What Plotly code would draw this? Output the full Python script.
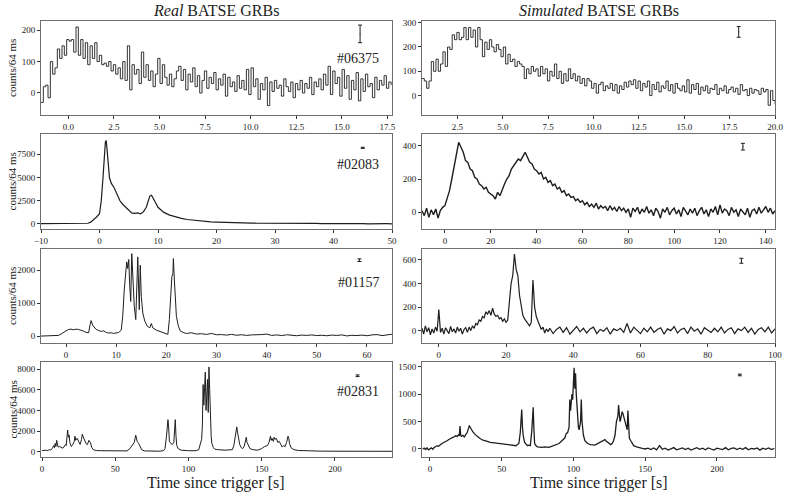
import numpy as np
import plotly.graph_objects as go

# ---------------- data ----------------
# Panel 1: real #06375, 0.128 s grid starting at -1.5 s
p1_t0, p1_dt = -1.5, 0.128
p1_counts = [-30, 20, 25, -15, 100, 60, 80, 140, 110, 150,
             120, 170, 165, 170, 130, 210, 120, 170, 110, 160,
             90, 150, 110, 160, 100, 120, 90, 95, 85, 100,
             70, 90, 60, 80, 45, 100, 40, 150, 10, 90,
             60, 75, 30, 130, 50, 90, 40, 70, 20, 60,
             110, 30, 90, 50, 25, 60, 20, 45, 70, 85,
             40, 75, 10, 60, 35, 80, 20, 55, 0, 40,
             70, 15, 50, 30, 65, 10, 45, 25, 60, -10,
             50, 20, 35, 5, 55, 15, 40, 10, 75, -5,
             80, 20, 45, -20, 30, 10, 50, -40, 35, 5,
             40, 15, 25, -10, 45, 20, 5, 35, -15, 30,
             10, 40, 0, 30, 15, 50, -5, 35, 20, 45,
             10, 60, 25, 85, -5, 70, 30, 50, -10, 75,
             15, 55, -20, 40, 10, 65, -25, 45, 5, 60,
             20, 30, -15, 50, 10, 40, 25, 55, 15, 35, 25]

# Panel 2: simulated, 0.128 s grid starting at 0.55 s
p2_t0, p2_dt = 0.55, 0.128
p2_counts = [70, 60, 30, 60, 140, 100, 150, 100, 130, 180,
             120, 200, 190, 250, 230, 260, 230, 240, 280, 230,
             280, 240, 270, 200, 280, 230, 160, 220, 190, 230,
             200, 180, 210, 190, 160, 200, 130, 170, 140, 150,
             120, 140, 130, 120, 70, 110, 90, 120, 100, 110,
             80, 120, 90, 110, 60, 100, 80, 130, 70, 100,
             50, 90, 60, 110, 70, 90, 60, 80, 50, 70,
             40, 70, 60, 30, 50, 10, 45, 55, 20, 40,
             30, 50, 20, 45, 10, 40, 25, 55, 35, 60,
             45, 65, 30, 60, 20, 50, 35, 60, 0, 45,
             25, 55, 15, 40, 30, 60, 20, 45, 10, 50,
             30, 20, 40, 15, 65, 10, 45, 25, 50, 5,
             35, 20, 40, 10, 30, 25, 45, 5, 30, 20,
             40, 10, 25, 35, 15, 30, 5, 45, 20, 25,
             0, 30, 10, 25, 20, 5, 30, 15, 25, -40, 20, -20, -35]

# Panel 3: real #02083
p3_time = [-10, -5, -2.5, -2, -1.5, -1, -0.5, 0, 0.3, 0.6, 0.8, 1.0, 1.15, 1.3, 1.5, 1.7,
           2.0, 2.5, 3, 3.5, 4, 4.5, 5, 5.5, 6, 6.5, 7, 7.5, 8, 8.3, 8.6, 8.9, 9.2, 9.5,
           10, 10.5, 11, 12, 13, 14, 15, 16, 17, 18, 19, 20,
           21, 22, 23, 24, 25, 26, 27, 28, 29, 30, 31, 32, 33, 34, 35, 36, 37, 38, 39, 40,
           41, 42, 43, 44, 45, 46, 47, 48, 49, 50]
p3_counts = [30, 30, 40, 80, 200, 450, 750, 1100, 2500, 5000, 7500, 8800, 9000, 8200, 6500, 5000,
             4400, 3900, 3200, 2500, 2100, 1800, 1500, 1200, 1150, 1200, 1100, 1300, 1800, 2500, 3000, 3100, 2800, 2400,
             1800, 1500, 1250, 950, 750, 600, 480, 400, 320, 260, 220, 190,
             160, 140, 130, 110, 100, 90, 80, 85, 70, 65, 70, 55, 60, 45, 50, 40, 55, 35, 45, 30,
             40, 25, 45, 30, 35, 20, 40, 25, 30, 20]

# Panel 4: simulated, 1 s grid starting at -10 s
p4_t0, p4_dt = -10, 1.0
p4_counts = [10, -20, 25, -30, 15, -15, 20, -35, 10, 30,
             40, 80, 130, 200, 270, 350, 420, 390, 360, 310,
             300, 260, 250, 210, 200, 170, 160, 140, 150, 120,
             110, 100, 80, 120, 100, 140, 170, 200, 220, 260,
             280, 300, 320, 310, 340, 360, 330, 300, 290, 260,
             250, 230, 240, 200, 210, 180, 190, 160, 170, 140,
             150, 120, 130, 100, 110, 90, 95, 70, 80, 60,
             70, 45, 60, 35, 50, 30, 55, 20, 40, 25,
             35, 10, 40, 15, 30, 5, 35, 10, 25, 0,
             20, -30, 25, 5, 30, -10, 20, 0, 35, -5,
             15, -20, 25, 5, -35, 20, 0, 30, -15, 10,
             25, -10, 15, -25, 30, 5, -15, 20, -5, 25,
             -20, 10, 30, -10, 15, -25, 20, 0, 35, -15,
             45, -5, 20, 10, -20, 30, 0, 15, -25, 20,
             5, -15, 25, -30, 10, 20, -10, 30, -5, 15,
             35, 0, 25, -10, 10]

# Panel 5: real #01157
p5_time = [-5, -2, -1.5, -1, -0.5, 0, 0.5, 1, 1.5, 2, 2.5, 3, 3.5, 4, 4.5, 4.8, 5, 5.3, 5.7, 6,
           6.5, 7, 7.5, 8, 8.5, 9, 9.5, 10, 10.5, 11, 11.3, 11.6, 11.9, 12.1, 12.3, 12.5, 12.7, 12.9,
           13.1, 13.3, 13.6, 13.9, 14.1, 14.3, 14.5, 14.6, 14.8, 15.0, 15.3, 15.7, 16.2, 16.7, 17, 17.3,
           18, 18.5, 19, 19.5, 20, 20.3, 20.6, 20.9, 21.1, 21.3, 21.4, 21.6, 21.8, 22, 22.4, 22.8,
           23.5, 24, 25, 26, 27, 28, 29, 30, 31, 32, 33, 34, 35, 36, 37, 38, 39, 40, 41, 42, 43, 44,
           45, 46, 47, 48, 49, 50, 51, 52, 53, 54, 55, 56, 57, 58, 59, 60, 61, 62, 63, 64, 65]
p5_counts = [0, 0, 20, 60, 120, 160, 200, 210, 190, 210, 200, 180, 150, 110, 100, 350, 470, 330, 250, 200,
             170, 140, 160, 110, 90, 100, 80, 90, 110, 180, 600, 1400, 2100, 2250, 2050, 2320, 1500, 1050,
             2500, 1600, 900, 500, 1200, 2400, 1300, 800, 2150, 1200, 700, 450, 300, 250, 380, 250,
             180, 150, 120, 100, 80, 50, 500, 1200, 1800, 1900, 2350, 1700, 1000, 600, 300, 150,
             100, 80, 100, 60, 70, 50, 80, 40, 45, 30, 50, 25, 40, 20, 35, 30, 45, 60, 20, 35, 15, 40,
             25, 10, 30, 20, 35, 15, 25, 10, 30, 20, 35, 5, 25, 15, 30, 10, 35, 45, 15, 40, 55]

# Panel 6: simulated, 0.5 s grid from -5 s then 1 s grid from 33 s
p6a_t0, p6a_dt = -5, 0.5
p6a_counts = [20, -30, 40, -10, 25, -35, 15, -20, 30, -5,
              180, -15, 20, -30, 25, 0, -25, 35, -10, 15,
              -20, 30, -5, 20, -30, 10, 25, -15, 30, 0,
              40, 20, 60, 50, 90, 80, 120, 110, 160, 140,
              170, 130, 190, 140, 120, 130, 100, 110, 80, 100,
              70, 90, 250, 400, 470, 650, 520, 470, 300, 200,
              130, 100, 80, 60, 40, 70, 430, 200, 120, 80,
              40, 10, 30, -20, 15, -10]
p6b_t0, p6b_dt = 33, 1.0
p6b_counts = [20, -25, 10, 30, -15, 25, -30, 5, 35, -10,
              20, -20, 15, 30, -25, 10, -5, 25, -30, 15,
              0, 20, -15, 60, -20, 30, 5, -25, 20, -10,
              30, -15, 10, 25, -30, 15, 0, 35, -20, 10,
              20, -25, 30, -5, 15, -30, 25, 5, -15, 20,
              -10, 30, -20, 10, 25, -25, 15, 0, 30, -15,
              20, -30, 10, 25, -10, 30, -20, 15]

# Panel 7: real #02831
p7_time = [0, 2, 4, 5, 6, 7, 8, 8.5, 9, 9.5, 10, 10.5, 11, 12, 13, 14, 15, 16, 16.5, 17, 17.5, 18, 18.5, 19,
           20, 21, 22, 22.5, 23, 24, 25, 26, 27, 27.5, 28, 28.5, 29, 30, 31, 32, 33, 34, 35, 37, 40, 45,
           50, 55, 58, 60, 61, 62, 63, 64, 64.5, 65, 66, 67, 68, 70, 75, 80, 83, 84, 85, 85.5, 86, 86.5,
           87, 88, 89, 90, 90.5, 91, 91.5, 92, 93, 95, 100, 105, 107, 108, 109, 109.5, 110, 110.5, 111,
           111.5, 112, 112.5, 113, 113.5, 114, 114.5, 115, 115.5, 116, 117, 118, 120, 125, 130, 131, 132,
           133, 133.5, 134, 135, 136, 137, 138, 139, 139.5, 140, 141, 142, 144, 147, 150, 152, 154, 155,
           156, 156.5, 157, 158, 158.5, 159, 160, 161, 162, 163, 164, 165, 166, 167, 168, 168.5, 169, 170,
           172, 175, 180, 190, 200, 210, 220, 230, 240]
p7_counts = [100, 150, 120, 200, 180, 300, 600, 400, 800, 500, 1100, 500, 450, 500, 400, 350, 450, 700, 600, 1300, 2100, 1400, 1600, 900,
             500, 700, 1000, 1500, 1100, 1300, 900, 700, 1200, 1700, 1500, 1300, 1000, 800, 700, 1100, 900, 400, 200, 120, 100, 80,
             60, 50, 80, 300, 500, 800, 900, 1600, 1200, 1000, 800, 500, 200, 80, 60, 50, 100, 300, 1500, 2700, 3100, 2300,
             1000, 800, 700, 900, 2000, 3100, 1500, 600, 300, 150, 100, 100, 200, 800, 1200, 2500, 6500, 4500, 6000,
             7700, 4000, 5500, 7000, 3800, 8200, 6000, 3000, 1500, 800, 400, 250, 200, 150, 200, 600, 1500,
             2400, 1900, 1500, 700, 400, 300, 500, 1000, 1400, 900, 500, 300, 200, 150, 300, 500, 600, 900,
             1500, 1100, 1300, 1000, 1400, 1200, 1300, 900, 1000, 700, 450, 600, 500, 900, 1500, 1300, 800, 400,
             200, 120, 80, 60, 50, 50, 40, 50, 40]

# Panel 8: simulated
p8_time = [-5, -4, -3, -2, -1, 0, 1, 2, 3, 4, 5, 6, 7, 8, 9, 10, 11, 12, 13, 14, 15, 16, 17, 18, 19, 20, 20.5,
           21, 21.5, 22, 23, 24, 25, 26, 27, 27.5, 28, 29, 30, 31, 32, 33, 35, 37, 40, 42, 45, 48, 50, 52,
           55, 57, 60, 61, 62, 63, 63.5, 64, 64.5, 65, 66, 67, 68, 69, 70, 71, 71.5, 72, 72.5, 73, 74, 75,
           78, 80, 83, 85, 88, 90, 92, 94, 95, 96, 97, 97.5, 98, 98.5, 99, 99.5, 100, 100.5, 101, 101.5,
           102, 102.5, 103, 103.5, 104, 104.5, 105, 105.5, 106, 107, 108, 110, 112, 115, 117, 119, 120,
           121, 122, 123, 124, 126, 127, 128, 129, 130, 131, 131.5, 132, 132.5, 133, 134, 134.5, 135, 136,
           137, 137.5, 138, 138.5, 139, 140, 141, 142, 144, 146, 148, 150, 152, 154, 156, 158, 160, 162,
           164, 166, 168, 170, 172, 174, 176, 178, 180, 182, 184, 186, 188, 190, 192, 194, 196, 198, 200,
           202, 204, 206, 208, 210, 212, 214, 216, 218, 220, 222, 224, 226, 228, 230, 232, 234, 236, 238, 240]
p8_counts = [0, 15, -10, 20, -15, 10, 20, -5, 30, 40, 60, 50, 80, 90, 110, 120, 140, 150, 170, 190, 200, 210, 230, 240, 230, 260, 240,
             420, 250, 230, 250, 220, 260, 300, 380, 430, 400, 350, 310, 280, 250, 230, 190, 160, 140, 120, 110, 100, 95, 80,
             80, 70, 60, 80, 100, 300, 500, 720, 400, 250, 120, 80, 60, 70, 60, 330, 600, 760, 350, 100, 60, 40,
             30, 40, 30, 50, 70, 100, 150, 200, 280, 300, 400, 900, 700, 800, 1000, 900, 1200, 1480, 1100, 1380,
             1000, 700, 600, 400, 350, 400, 500, 900, 500, 250, 150, 100, 80, 70, 100, 130, 150,
             160, 170, 140, 120, 80, 100, 150, 250, 500, 600, 800, 650, 500, 550, 680, 650, 600, 500,
             420, 350, 700, 450, 200, 150, 100, 60, 40, 20, 10, 0, 15, -10, 20, -15, 60, -5,
             15, -20, 10, 25, -15, 5, 20, -10, 15, -20, 10, 25, -5, 15, -15, 20, 0, -20, 15,
             5, -10, 25, -15, 10, 20, -10, 15, -5, 25, -15, 10, 0, 20, -20, 15, -5, 20, -10, 10]

# Typical error bar per panel (x, y, half-length)
err_x = [16.0, 18.0, 45.0, 130.0, 58.5, 90.0, 215.5, 216.0]
err_y = [188, 262, 8200, 394, 2300, 593, 7350, 1350]
err_h = [28, 22, 60, 20, 40, 21, 80, 15]

burst_ids = ["#06375", None, "#02083", None, "#01157", None, "#02831", None]
col_titles = ["<i>Real</i> BATSE GRBs", "<i>Simulated</i> BATSE GRBs"]
x_title = "Time since trigger [s]"
y_title = "counts/64 ms"

# ---------------- assemble series ----------------
def grid(t0, dt, vals):
    return [t0 + dt * i for i in range(len(vals))]

series = [
    (grid(p1_t0, p1_dt, p1_counts), p1_counts, "hv"),
    (grid(p2_t0, p2_dt, p2_counts), p2_counts, "hv"),
    (p3_time, p3_counts, "linear"),
    (grid(p4_t0, p4_dt, p4_counts), p4_counts, "linear"),
    (p5_time, p5_counts, "linear"),
    (grid(p6a_t0, p6a_dt, p6a_counts) + grid(p6b_t0, p6b_dt, p6b_counts), p6a_counts + p6b_counts, "linear"),
    (p7_time, p7_counts, "linear"),
    (p8_time, p8_counts, "linear"),
]
line_w = [0.9, 0.9, 1.2, 1.4, 1.0, 1.2, 1.0, 1.3]

xranges = [[-1.5, 17.75], [0.55, 20.0], [-10, 50], [-10, 144], [-5, 65], [-5, 100], [-0.7, 239], [-5.5, 240.5]]
yranges = [[-70, 229], [-80, 307], [-540, 9690], [-100, 470], [-210, 2640], [-105, 693], [-510, 8680], [-146, 1586]]
xdticks = [2.5, 2.5, 10, 20, 10, 20, 50, 50]
ydticks = [100, 100, 2500, 200, 1000, 200, 2000, 500]
xfmt = [".1f", ".1f", "", "", "", "", "", ""]

W, H = 789, 493
col_px = [(41, 392), (422, 775)]
row_px = [(21, 115), (134, 229), (249, 343), (362, 457)]

FONT = "Liberation Serif, Times New Roman, serif"
fig = go.Figure()
layout = {}
for k in range(8):
    r, c = k // 2, k % 2
    ax = "" if k == 0 else str(k + 1)
    t, v, shape = series[k]
    fig.add_trace(go.Scatter(x=t, y=v, mode="lines", line=dict(color="#1e1e1e", width=line_w[k], shape=shape),
                             xaxis="x" + ax, yaxis="y" + ax, showlegend=False, hoverinfo="skip"))
    fig.add_trace(go.Scatter(x=[err_x[k]], y=[err_y[k]], mode="markers", marker=dict(size=1, color="#1e1e1e"),
                             error_y=dict(type="data", array=[err_h[k]], color="#1e1e1e", thickness=1, width=2),
                             xaxis="x" + ax, yaxis="y" + ax, showlegend=False, hoverinfo="skip"))
    x0, x1 = col_px[c]
    y0, y1 = row_px[r]
    common = dict(showgrid=False, zeroline=False, showline=True, mirror=True, linecolor="#6e6e6e",
                  linewidth=1, ticks="outside", ticklen=3, tickwidth=1, tickcolor="#333", automargin=False,
                  tickfont=dict(family=FONT, size=9, color="#222"))
    layout["xaxis" + ax] = dict(domain=[x0 / W, x1 / W], anchor="y" + ax, range=xranges[k],
                                tick0=0, dtick=xdticks[k], tickformat=xfmt[k], **common)
    layout["yaxis" + ax] = dict(domain=[1 - y1 / H, 1 - y0 / H], anchor="x" + ax, range=yranges[k],
                                tick0=0, dtick=ydticks[k], **common)

annotations = []
for c in range(2):
    x0, x1 = col_px[c]
    annotations.append(dict(text=col_titles[c], x=(x0 + x1) / 2 / W, y=1 - 10 / H, xref="paper", yref="paper",
                            showarrow=False, font=dict(family=FONT, size=16, color="#222"),
                            xanchor="center", yanchor="middle"))
    annotations.append(dict(text=x_title, x=(x0 + x1) / 2 / W, y=1 - 483 / H, xref="paper", yref="paper",
                            showarrow=False, font=dict(family=FONT, size=16, color="#222"),
                            xanchor="center", yanchor="middle"))
label_y = [0.6, None, 0.68, None, 0.64, None, 0.69, None]
for k in range(8):
    if burst_ids[k]:
        ax = "" if k == 0 else str(k + 1)
        annotations.append(dict(text=burst_ids[k], x=0.97, y=label_y[k], xref="x" + ax + " domain",
                                yref="y" + ax + " domain", showarrow=False, xanchor="right", yanchor="middle",
                                font=dict(family=FONT, size=14, color="#222")))
for r in range(4):
    y0, y1 = row_px[r]
    annotations.append(dict(text=y_title, x=12 / W, y=1 - (y0 + y1) / 2 / H, xref="paper", yref="paper",
                            showarrow=False, textangle=-90, font=dict(family=FONT, size=11, color="#222"),
                            xanchor="center", yanchor="middle"))

fig.update_layout(width=W, height=H, margin=dict(l=0, r=0, t=0, b=0), plot_bgcolor="white",
                  paper_bgcolor="white", annotations=annotations, **layout)
fig.write_html("out.html", config={"displayModeBar": False},
               post_script="document.body.style.margin='0';document.body.style.overflow='hidden';")
